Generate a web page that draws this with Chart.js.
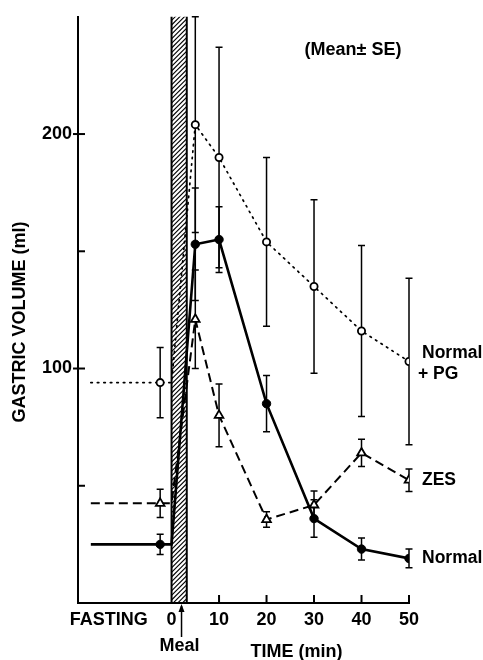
<!DOCTYPE html>
<html><head><meta charset="utf-8">
<script src="https://cdn.jsdelivr.net/npm/chart.js@4"></script>
<style>html,body{margin:0;padding:0;background:#fff}#wrap{width:483px;height:660px;position:relative}</style>
</head><body><div id="wrap"><canvas id="c"></canvas></div>
<script>
// ---- data ----
const timePoints = [5, 10, 20, 30, 40, 50];
const fastingX = -2.4;          // fasting sample position (min, left of the meal)
const fastingLineStart = -17;   // where fasting baseline lines begin
const mealStart = 0, mealEnd = 3.2;

const normalFasting = 25,  normalFastingSE = 4.3;
const normalValues = [153, 155, 85, 36, 23, 19];
const normalSE     = [24, 14, 12, 8, 4.7, 4];

const zesFasting = 42.5, zesFastingSE = 6;
const zesValues = [121, 80, 35.6, 41.8, 64, 52.4];
const zesSE     = [21, 13.4, 3.3, 6, 5.8, 4.8];

const pgFasting = 94, pgFastingSE = 15;
const pgValues = [204, 190, 154, 135, 116, 103];
const pgSE     = [46, 47, 36, 37, 36.5, 35.5];

const yMin = 0, yMax = 250;
const yTicks = [50, 100, 150, 200];
const yTickLabels = ['', '100', '', '200'];
const xMin = -19.7, xMax = 50;
const xTicks = [-13.2, 0, 10, 20, 30, 40, 50];
const xTickLabels = ['FASTING', '0', '10', '20', '30', '40', '50'];
const innerXTicks = [10, 20, 30, 40, 50];

const FONT = '"Liberation Sans", Arial, Helvetica, sans-serif';

function buildSeries(fast, fastSE, vals, ses) {
  const data = [{x: fastingLineStart, y: fast}, {x: fastingX, y: fast}, {x: mealStart, y: fast}];
  const errors = [null, fastSE, null];
  const marks = [false, true, false];
  timePoints.forEach((t, i) => { data.push({x: t, y: vals[i]}); errors.push(ses[i]); marks.push(true); });
  return {data, errors, marks};
}
const sN = buildSeries(normalFasting, normalFastingSE, normalValues, normalSE);
const sZ = buildSeries(zesFasting, zesFastingSE, zesValues, zesSE);
const sP = buildSeries(pgFasting, pgFastingSE, pgValues, pgSE);

const overlay = {
  id: 'overlay',
  beforeDatasetsDraw(chart) {
    const ctx = chart.ctx, xs = chart.scales.x, ys = chart.scales.y, ca = chart.chartArea;
    // hatched meal bar
    const x0 = xs.getPixelForValue(mealStart), x1 = xs.getPixelForValue(mealEnd);
    ctx.save();
    ctx.beginPath(); ctx.rect(x0, ca.top, x1 - x0, ca.bottom - ca.top); ctx.clip();
    ctx.strokeStyle = '#000'; ctx.lineWidth = 1.1;
    for (let y = ca.top - 30; y < ca.bottom + 30; y += 4.6) {
      ctx.beginPath(); ctx.moveTo(x0, y + (x1 - x0)); ctx.lineTo(x1, y); ctx.stroke();
    }
    ctx.restore();
    ctx.save();
    ctx.strokeStyle = '#000'; ctx.lineWidth = 2;
    ctx.beginPath(); ctx.moveTo(x0, ca.top); ctx.lineTo(x0, ca.bottom);
    ctx.moveTo(x1, ca.top); ctx.lineTo(x1, ca.bottom); ctx.stroke();
    ctx.restore();
    // error bars
    ctx.save();
    ctx.strokeStyle = '#000'; ctx.lineWidth = 1.5; ctx.setLineDash([]);
    chart.data.datasets.forEach(ds => {
      ds.data.forEach((p, i) => {
        const se = ds.errors[i]; if (se == null) return;
        const px = xs.getPixelForValue(p.x);
        const top = ys.getPixelForValue(Math.min(p.y + se, yMax));
        const bot = ys.getPixelForValue(p.y - se);
        ctx.beginPath();
        ctx.moveTo(px, top); ctx.lineTo(px, bot);
        ctx.moveTo(px - 3.5, top); ctx.lineTo(px + 3.5, top);
        ctx.moveTo(px - 3.5, bot); ctx.lineTo(px + 3.5, bot);
        ctx.stroke();
      });
    });
    ctx.restore();
  },
  afterDraw(chart) {
    const ctx = chart.ctx, xs = chart.scales.x, ys = chart.scales.y, ca = chart.chartArea;
    ctx.save();
    ctx.strokeStyle = '#000'; ctx.lineWidth = 2;
    // inward tick marks
    yTicks.forEach((v, i) => {
      const py = ys.getPixelForValue(v);
      ctx.beginPath(); ctx.moveTo(ca.left - (yTickLabels[i] ? 5 : 0), py); ctx.lineTo(ca.left + 7, py); ctx.stroke();
    });
    innerXTicks.forEach(v => {
      const px = xs.getPixelForValue(v);
      ctx.beginPath(); ctx.moveTo(px, ca.bottom); ctx.lineTo(px, ca.bottom - 8); ctx.stroke();
    });
    // meal arrow
    const ax = xs.getPixelForValue(2.1);
    ctx.lineWidth = 1.5;
    ctx.beginPath(); ctx.moveTo(ax, ca.bottom + 34); ctx.lineTo(ax, ca.bottom + 3); ctx.stroke();
    ctx.fillStyle = '#000';
    ctx.beginPath(); ctx.moveTo(ax, ca.bottom + 1); ctx.lineTo(ax - 3, ca.bottom + 9); ctx.lineTo(ax + 3, ca.bottom + 9); ctx.closePath(); ctx.fill();
    // texts
    ctx.fillStyle = '#000';
    ctx.textBaseline = 'middle';
    ctx.font = 'bold 18px ' + FONT;
    ctx.textAlign = 'center';
    ctx.fillText('Meal', ax - 2, 646);
    ctx.fillText('TIME (min)', xs.getPixelForValue(26.3), 652);
    ctx.fillText('(Mean\u00B1 SE)', 353, 50);
    ctx.textAlign = 'left';
    const lx = xs.getPixelForValue(xMax) + 13;
    const yP = ys.getPixelForValue(pgValues[pgValues.length - 1]);
    ctx.font = 'bold 17.5px ' + FONT;
    ctx.fillText('Normal', lx, yP - 8);
    ctx.fillText('+ PG', lx - 4, yP + 13);
    ctx.fillText('ZES', lx, ys.getPixelForValue(zesValues[zesValues.length - 1]));
    ctx.fillText('Normal', lx, ys.getPixelForValue(normalValues[normalValues.length - 1]));
    // y title
    ctx.save();
    ctx.translate(20, 322);
    ctx.rotate(-Math.PI / 2);
    ctx.textAlign = 'center';
    ctx.font = 'bold 18px ' + FONT;
    ctx.fillText('GASTRIC VOLUME (ml)', 0, 0);
    ctx.restore();
    ctx.restore();
  }
};

new Chart(document.getElementById('c'), {
  type: 'line',
  data: {
    datasets: [
      { label: 'Normal + PG', data: sP.data, errors: sP.errors,
        borderColor: '#000', borderWidth: 1.7, borderDash: [1.5, 5], borderCapStyle: 'round',
        pointStyle: 'circle', pointRadius: sP.marks.map(m => m ? 3.6 : 0),
        pointBackgroundColor: '#fff', pointBorderColor: '#000', pointBorderWidth: 1.8, tension: 0 },
      { label: 'ZES', data: sZ.data, errors: sZ.errors,
        borderColor: '#000', borderWidth: 2, borderDash: [9, 5],
        pointStyle: 'triangle', pointRadius: sZ.marks.map(m => m ? 5 : 0),
        pointBackgroundColor: '#fff', pointBorderColor: '#000', pointBorderWidth: 1.8, tension: 0 },
      { label: 'Normal', data: sN.data, errors: sN.errors,
        borderColor: '#000', borderWidth: 2.6,
        pointStyle: 'circle', pointRadius: sN.marks.map(m => m ? 4.2 : 0),
        pointBackgroundColor: '#000', pointBorderColor: '#000', pointBorderWidth: 1, tension: 0 }
    ]
  },
  options: {
    responsive: true, maintainAspectRatio: false, animation: false,
    layout: { padding: { top: 14, right: 74, left: 0, bottom: 0 } },
    plugins: { legend: { display: false }, tooltip: { enabled: false } },
    scales: {
      x: {
        type: 'linear', min: xMin, max: xMax,
        afterFit: s => { s.height = 57; },
        afterBuildTicks: s => { s.ticks = xTicks.map(v => ({ value: v })); },
        grid: { display: true, drawOnChartArea: false, drawTicks: false },
        border: { display: true, color: '#000', width: 2 },
        ticks: { autoSkip: false, maxRotation: 0, padding: 6, color: '#000',
          font: { family: FONT, size: 18, weight: 'bold' },
          callback: (v, i) => xTickLabels[i] }
      },
      y: {
        type: 'linear', min: yMin, max: yMax,
        afterFit: s => { s.width = 78; },
        afterBuildTicks: s => { s.ticks = yTicks.map(v => ({ value: v })); },
        grid: { display: true, drawOnChartArea: false, drawTicks: false },
        border: { display: true, color: '#000', width: 2 },
        ticks: { autoSkip: false, padding: 6, color: '#000',
          font: { family: FONT, size: 18, weight: 'bold' },
          callback: (v, i) => yTickLabels[i] }
      }
    }
  },
  plugins: [overlay]
});
</script></body></html>
